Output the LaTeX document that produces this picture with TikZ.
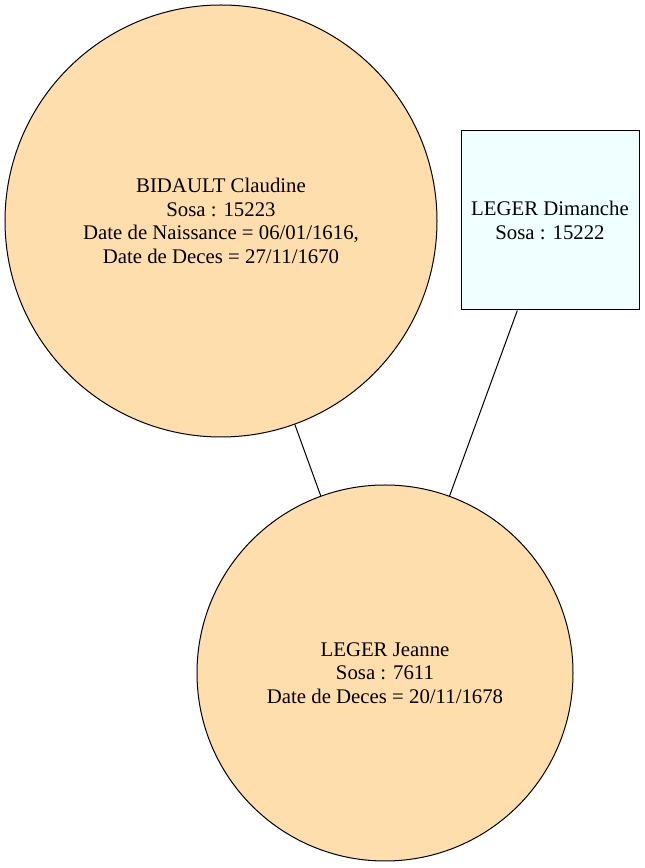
\documentclass[tikz,border=0pt]{standalone}
\usepackage{fontspec}
\setmainfont{Liberation Serif}
\begin{document}
\begin{tikzpicture}[x=1pt,y=1pt,
  person/.style={circle,draw=black,line width=1pt,fill=ppl,inner sep=0pt,align=center,font=\fontsize{20.8}{23.7}\selectfont},
  father/.style={rectangle,draw=black,line width=1pt,fill=azureish,inner sep=0pt,align=center,font=\fontsize{20.8}{23.7}\selectfont},
  link/.style={draw=black,line width=1pt}]
\definecolor{ppl}{RGB}{255,222,173}
\definecolor{azureish}{RGB}{240,255,255}
\useasboundingbox (0,0) rectangle (645,868);
\node[person,minimum size=432pt] (claudine) at (221,647) {BIDAULT Claudine\\Sosa : 15223\\Date de Naissance = 06/01/1616,\\Date de Deces = 27/11/1670};
\node[father,minimum width=178pt,minimum height=179pt] (dimanche) at (550,647.5) {LEGER Dimanche\\Sosa : 15222};
\node[person,minimum size=376pt] (jeanne) at (385,195) {LEGER Jeanne\\Sosa : 7611\\Date de Deces = 20/11/1678};
\draw[link] (claudine) -- (jeanne);
\draw[link] (dimanche) -- (jeanne);
\end{tikzpicture}
\end{document}
